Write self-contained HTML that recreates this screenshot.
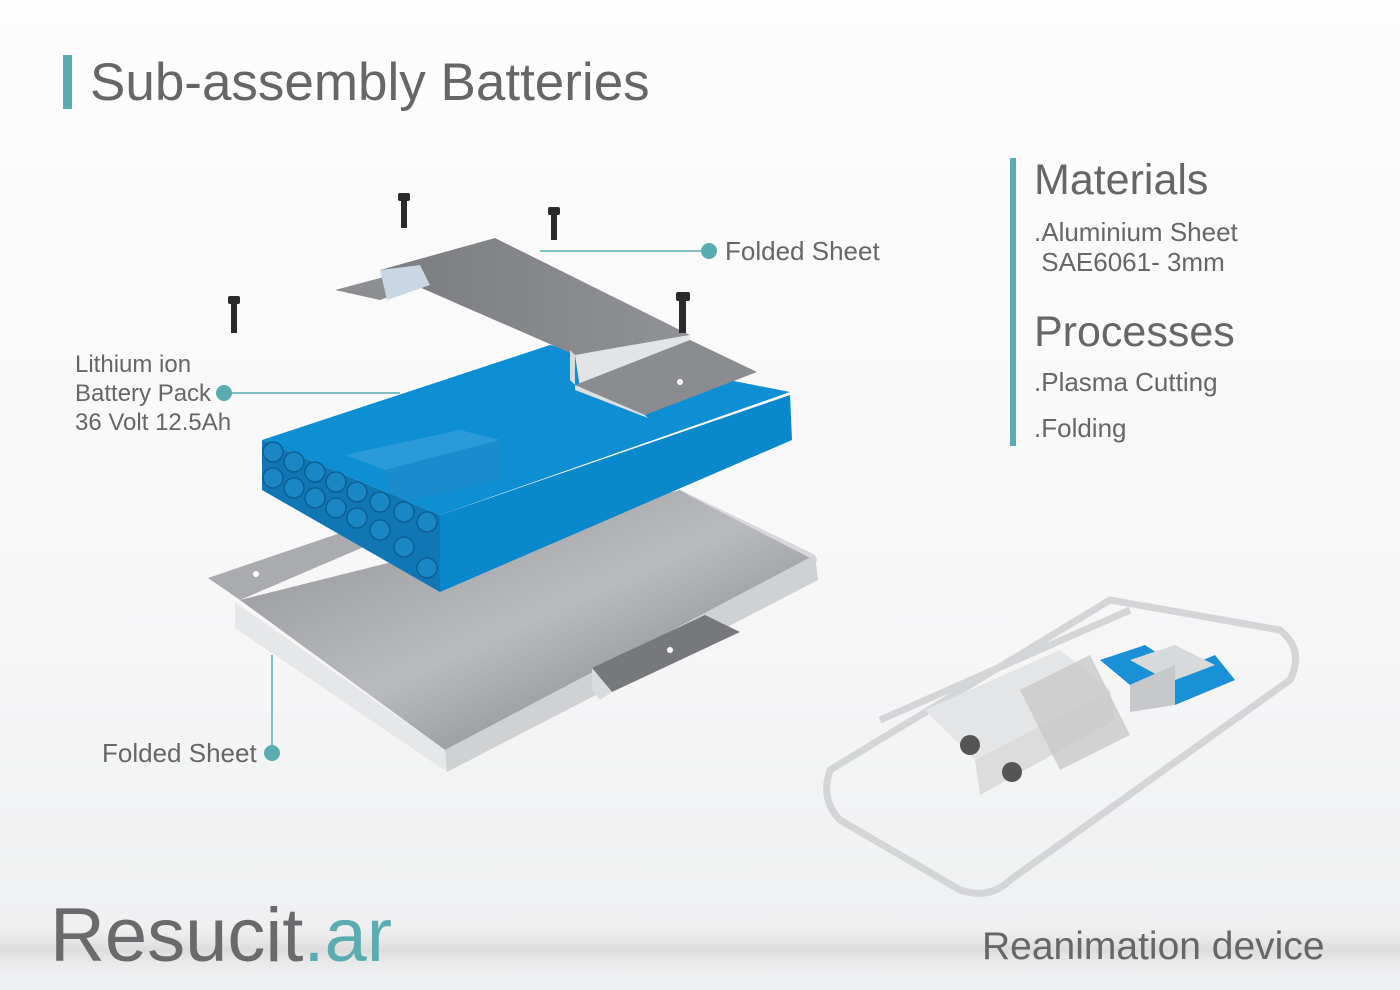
<!DOCTYPE html>
<html><head><meta charset="utf-8"><style>
body{margin:0;width:1400px;height:990px;overflow:hidden;font-family:"Liberation Sans",sans-serif;}
.bg{position:absolute;left:0;top:0;width:1400px;height:990px;background:linear-gradient(180deg,#fdfdfd 0%,#f7f7f8 60%,#eeeff0 100%);}
.t{position:absolute;color:#666;white-space:nowrap;}
</style></head><body>
<div class="bg"></div>
<svg width="1400" height="990" style="position:absolute;left:0;top:0">
<defs>
<linearGradient id="met" x1="0" y1="0" x2="1" y2="1"><stop offset="0" stop-color="#8d8f92"/><stop offset="0.5" stop-color="#b9bbbe"/><stop offset="1" stop-color="#6f7174"/></linearGradient>
<linearGradient id="met2" x1="0" y1="0" x2="1" y2="0"><stop offset="0" stop-color="#7a7c7f"/><stop offset="1" stop-color="#909295"/></linearGradient>
<linearGradient id="band" x1="0" y1="0" x2="0" y2="1"><stop offset="0" stop-color="#e9e9ea" stop-opacity="0"/><stop offset="0.5" stop-color="#dcdcdd"/><stop offset="1" stop-color="#e9e9ea" stop-opacity="0"/></linearGradient>
</defs>
<rect x="0" y="925" width="1400" height="50" fill="url(#band)"/>
<!-- title bar -->
<rect x="63" y="55" width="9" height="54" fill="#5aacb0"/>
<rect x="1010" y="158" width="6" height="288" fill="#5aacb0"/>
<!-- bottom tray -->
<polygon points="208,578 355,528 380,540 240,600" fill="#a9abae"/>
<polygon points="240,600 680,490 815,555 445,750" fill="url(#met)"/>
<polygon points="680,490 815,555 818,562 690,496" fill="#d7d8da"/>
<polygon points="235,602 445,750 447,772 235,628" fill="#e6e7e9"/>
<polygon points="445,750 815,555 818,580 447,772" fill="#d0d1d3"/>
<polygon points="592,668 705,615 740,632 612,692" fill="#76787b"/>
<polygon points="592,668 612,692 600,700 592,690" fill="#dadbdd"/>
<circle cx="256" cy="574" r="3" fill="#fff"/><circle cx="670" cy="650" r="3" fill="#fff"/>
<!-- battery -->
<polygon points="440,515 790,395 792,440 440,592" fill="#0a88cc"/>
<polygon points="262,440 550,345 790,392 440,515" fill="#0e8fd3"/>
<polygon points="345,455 460,430 500,440 385,470" fill="#2b9ad8"/>
<polygon points="385,470 500,440 500,480 390,505" fill="#1a8bcc"/>
<polygon points="262,440 440,515 440,592 262,490" fill="#1177b4"/>
<g fill="#1a86c4" stroke="#0b5f95" stroke-width="1.5">
<circle cx="273" cy="452" r="10"/><circle cx="294" cy="462" r="10"/><circle cx="315" cy="472" r="10"/><circle cx="336" cy="482" r="10"/><circle cx="357" cy="492" r="10"/><circle cx="380" cy="502" r="10"/><circle cx="404" cy="512" r="10"/><circle cx="427" cy="522" r="10"/>
<circle cx="273" cy="478" r="10"/><circle cx="294" cy="488" r="10"/><circle cx="315" cy="498" r="10"/><circle cx="336" cy="508" r="10"/><circle cx="357" cy="518" r="10"/><circle cx="380" cy="530" r="10"/><circle cx="404" cy="547" r="10"/><circle cx="427" cy="568" r="10"/>
</g>
<!-- top folded sheet -->
<polygon points="335,290 440,262 450,275 380,300" fill="#8c8e91"/>
<polygon points="380,270 495,238 690,335 575,355" fill="url(#met2)"/>
<polygon points="380,270 387,300 430,285 420,265" fill="#c9d7e4"/>
<polygon points="570,350 575,355 575,385 570,380" fill="#d8d9db"/>
<polygon points="575,355 690,335 690,345 580,388" fill="#e3e4e6"/>
<polygon points="575,385 690,340 757,372 645,415" fill="#8a8c8f"/>
<polygon points="575,385 645,415 648,418 575,390" fill="#dedfe1"/>
<circle cx="680" cy="382" r="3" fill="#fff"/>
<!-- screws -->
<g fill="#2a2a2c"><rect x="398" y="193" width="12" height="8" rx="2"/><rect x="401" y="200" width="6" height="28"/>
<rect x="548" y="207" width="12" height="8" rx="2"/><rect x="551" y="214" width="6" height="26"/>
<rect x="228" y="296" width="12" height="8" rx="2"/><rect x="231" y="303" width="6" height="30"/>
<rect x="676" y="292" width="14" height="9" rx="2"/><rect x="679" y="300" width="7" height="33"/></g>
<!-- leaders -->
<g stroke="#5aacb0" stroke-width="1.5"><line x1="540" y1="251" x2="708" y2="251"/><line x1="224" y1="393" x2="400" y2="393"/><line x1="272" y1="655" x2="272" y2="752"/></g>
<g fill="#5aacb0"><circle cx="709" cy="251" r="8"/><circle cx="224" cy="393" r="8"/><circle cx="272" cy="753" r="8"/></g>
<!-- device -->
<g fill="none" stroke="#d4d5d7" stroke-width="7" stroke-linejoin="round">
<path d="M830,770 L1110,600 L1280,630 Q1305,650 1290,680 L1010,880 Q990,900 960,890 L840,820 Q820,800 830,770 Z"/>
<path d="M880,720 L1130,610"/>
</g>
<polygon points="925,710 1060,650 1110,690 975,760" fill="#e4e5e6"/>
<polygon points="975,760 1110,690 1115,720 980,795" fill="#dcdcdd"/>
<polygon points="1020,690 1090,655 1130,735 1060,770" fill="#c9c9cb" opacity="0.8"/>
<polygon points="1100,660 1145,645 1175,665 1130,685" fill="#1a90d6"/>
<polygon points="1155,680 1215,655 1235,680 1175,705" fill="#1a90d6"/>
<polygon points="1130,660 1175,645 1215,665 1170,682" fill="#d8d9da"/>
<polygon points="1130,685 1175,665 1175,705 1130,712" fill="#c7c8ca"/>
<circle cx="970" cy="745" r="10" fill="#555"/><circle cx="1012" cy="772" r="10" fill="#555"/>
</svg>
<div class="t" style="left:90px;top:52px;font-size:53px;">Sub-assembly Batteries</div>
<div class="t" style="left:1034px;top:156px;font-size:43px;">Materials</div>
<div class="t" style="left:1034px;top:217px;font-size:26px;line-height:30px;">.Aluminium Sheet<br>&nbsp;SAE6061- 3mm</div>
<div class="t" style="left:1034px;top:308px;font-size:43px;">Processes</div>
<div class="t" style="left:1034px;top:367px;font-size:26px;">.Plasma Cutting</div>
<div class="t" style="left:1034px;top:413px;font-size:26px;">.Folding</div>
<div class="t" style="left:725px;top:236px;font-size:26px;">Folded Sheet</div>
<div class="t" style="left:75px;top:350px;font-size:24px;line-height:29px;">Lithium ion<br>Battery Pack<br>36 Volt 12.5Ah</div>
<div class="t" style="left:102px;top:738px;font-size:26px;">Folded Sheet</div>
<div class="t" style="left:50px;top:892px;font-size:76px;color:#6a6a6c;">Resucit<span style="color:#5aacb0">.ar</span></div>
<div class="t" style="left:982px;top:925px;font-size:39px;">Reanimation device</div>
</body></html>
